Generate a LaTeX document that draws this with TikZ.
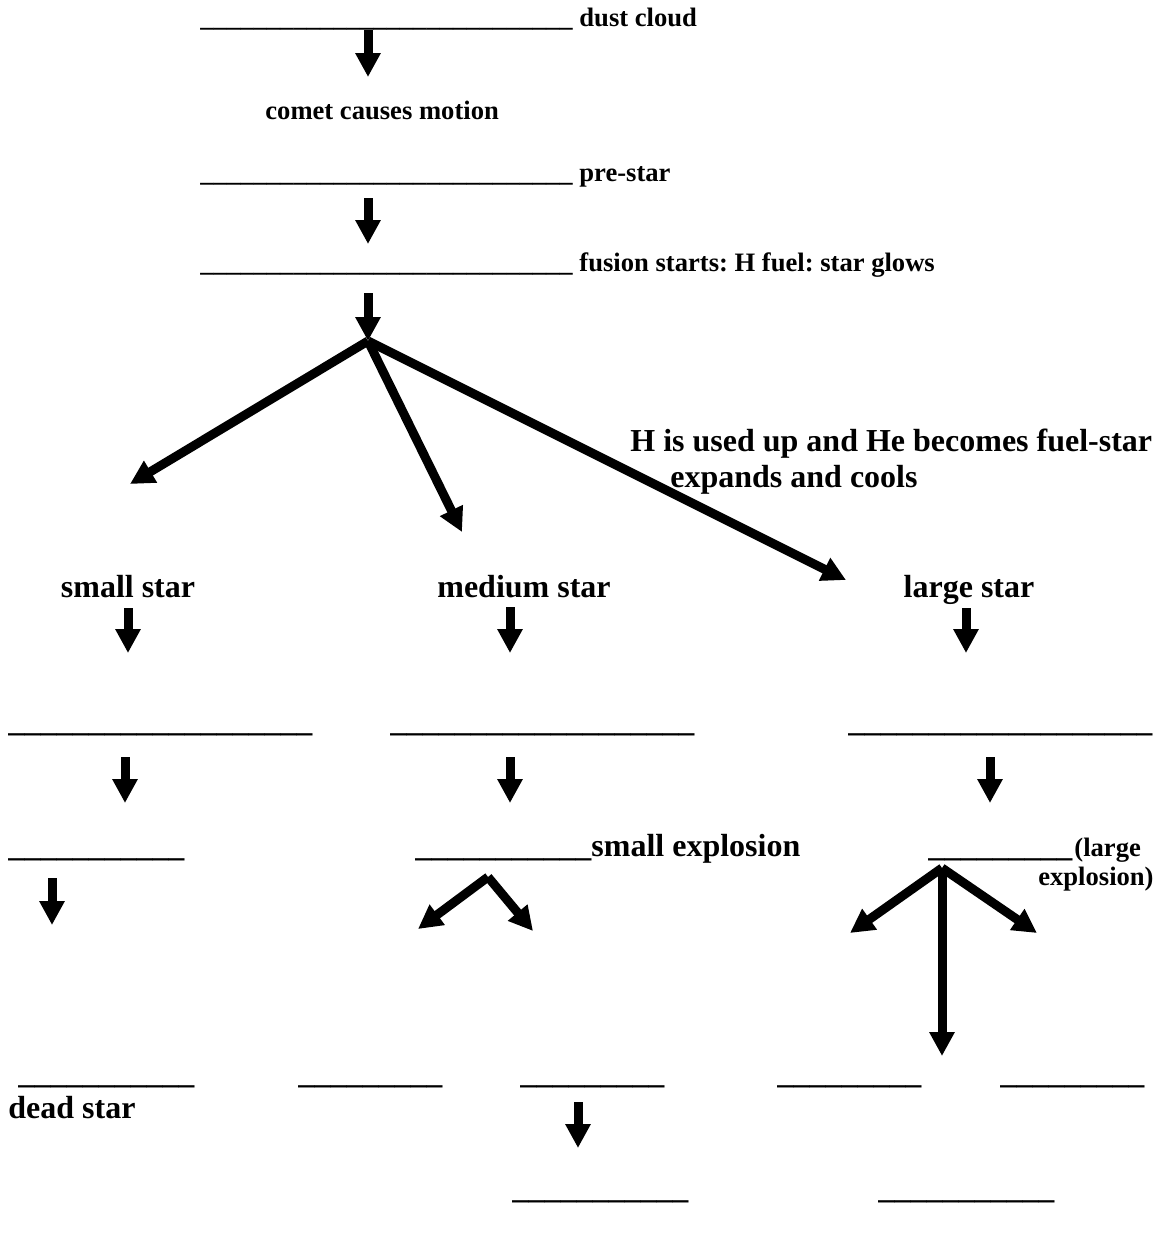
\documentclass[tikz,border=0pt]{standalone}
\usepackage{fontspec}
\setmainfont{Liberation Serif}
\usepackage{tikz}
\usetikzlibrary{arrows.meta}
\usetikzlibrary{calc}
\frenchspacing

\newcommand{\blanks}[1]{\foreach \i in {1,...,#1}{\_}}

\begin{document}
\begin{tikzpicture}[x=0.5pt,y=-0.5pt,
  sm/.style={font=\fontsize{13.3}{15}\selectfont\bfseries,inner sep=0pt},
  lg/.style={font=\fontsize{16}{18}\selectfont\bfseries,inner sep=0pt},
  arr/.style={line width=4.5pt,-{Triangle[width=12pt,length=12pt]}}]
\useasboundingbox (0,0) rectangle (1160,1233);

% top chain
\node[sm,anchor=base west] (dust) at (200,26) {\blanks{28} dust cloud};
\node[sm,anchor=base west] (comet) at (265,119) {comet causes motion};
\node[sm,anchor=base west] (prestar) at (200,181) {\blanks{28} pre-star};
\node[sm,anchor=base west] (fusion) at (200,271) {\blanks{28} fusion starts: H fuel: star glows};
\node[lg,anchor=base west] (fuel) at (630,451) {H is used up and He becomes fuel-star};
\node[lg,anchor=base west] (cools) at (670,487) {expands and cools};

% three stars
\node[lg,anchor=base] (small) at (128,597) {small star};
\node[lg,anchor=base] (medium) at (524,597) {medium star};
\node[lg,anchor=base] (large) at (969,597) {large star};

\node[lg,anchor=base west] (sb1) at (8,731) {\blanks{19}};
\node[lg,anchor=base west] (mb1) at (390,731) {\blanks{19}};
\node[lg,anchor=base west] (lb1) at (848,731) {\blanks{19}};

\node[lg,anchor=base west] (sb2) at (8,856) {\blanks{11}};
\node[lg,anchor=base west] (mb2) at (415,856) {\blanks{11}small explosion};
\node[lg,anchor=base west] (lb2) at (928,856) {\blanks{9}};
\node[sm,anchor=base west] (lexp1) at (1074,856) {(large};
\node[sm,anchor=base east] (lexp2) at (1154,885) {explosion)};

\node[lg,anchor=base west] (sb3) at (18,1083) {\blanks{11}};
\node[lg,anchor=base west] (dead) at (8,1118) {dead star};
\node[lg,anchor=base west] (mb3) at (298,1083) {\blanks{9}};
\node[lg,anchor=base west] (mb4) at (520,1083) {\blanks{9}};
\node[lg,anchor=base west] (lb3) at (777,1083) {\blanks{9}};
\node[lg,anchor=base west] (lb4) at (1000,1083) {\blanks{9}};

\node[lg,anchor=base west] (mb5) at (512,1198) {\blanks{11}};
\node[lg,anchor=base west] (lb5) at (878,1198) {\blanks{11}};

% straight arrows
\foreach \n/\x/\ya/\yb in {1/368/30/77, 2/368/198/244, 3/368/293/341,
    4/128/608/653, 5/510/607/653, 6/966/608/653,
    7/125/757/803, 8/510/757/803, 9/990/757/803,
    10/52/878/925, 11/578/1102/1148}
  {
  \coordinate (t\n) at (\x,\ya);
  \coordinate (h\n) at (\x,\yb);
  \draw[arr] (t\n) -- (h\n);
  }

% branching arrows
\coordinate (split) at (368,341);
\coordinate (toSmall) at (130,484);
\coordinate (toMedium) at (462,532);
\coordinate (toLarge) at (846,580);
\draw[arr] (split) -- (toSmall);
\draw[arr] (split) -- (toMedium);
\draw[arr] (split) -- (toLarge);

\coordinate (msplit) at (488,877);
\coordinate (mleft) at (418,929);
\coordinate (mright) at (533,931);
\draw[arr] (msplit) -- (mleft);
\draw[arr] (msplit) -- (mright);

\coordinate (lsplit) at (942,868);
\coordinate (lleft) at (850,933);
\coordinate (lright) at (1037,933);
\coordinate (ldown) at (942,1056);
\draw[arr] (lsplit) -- (lleft);
\draw[arr] (lsplit) -- (lright);
\draw[arr] (lsplit) -- (ldown);
\end{tikzpicture}
\end{document}
